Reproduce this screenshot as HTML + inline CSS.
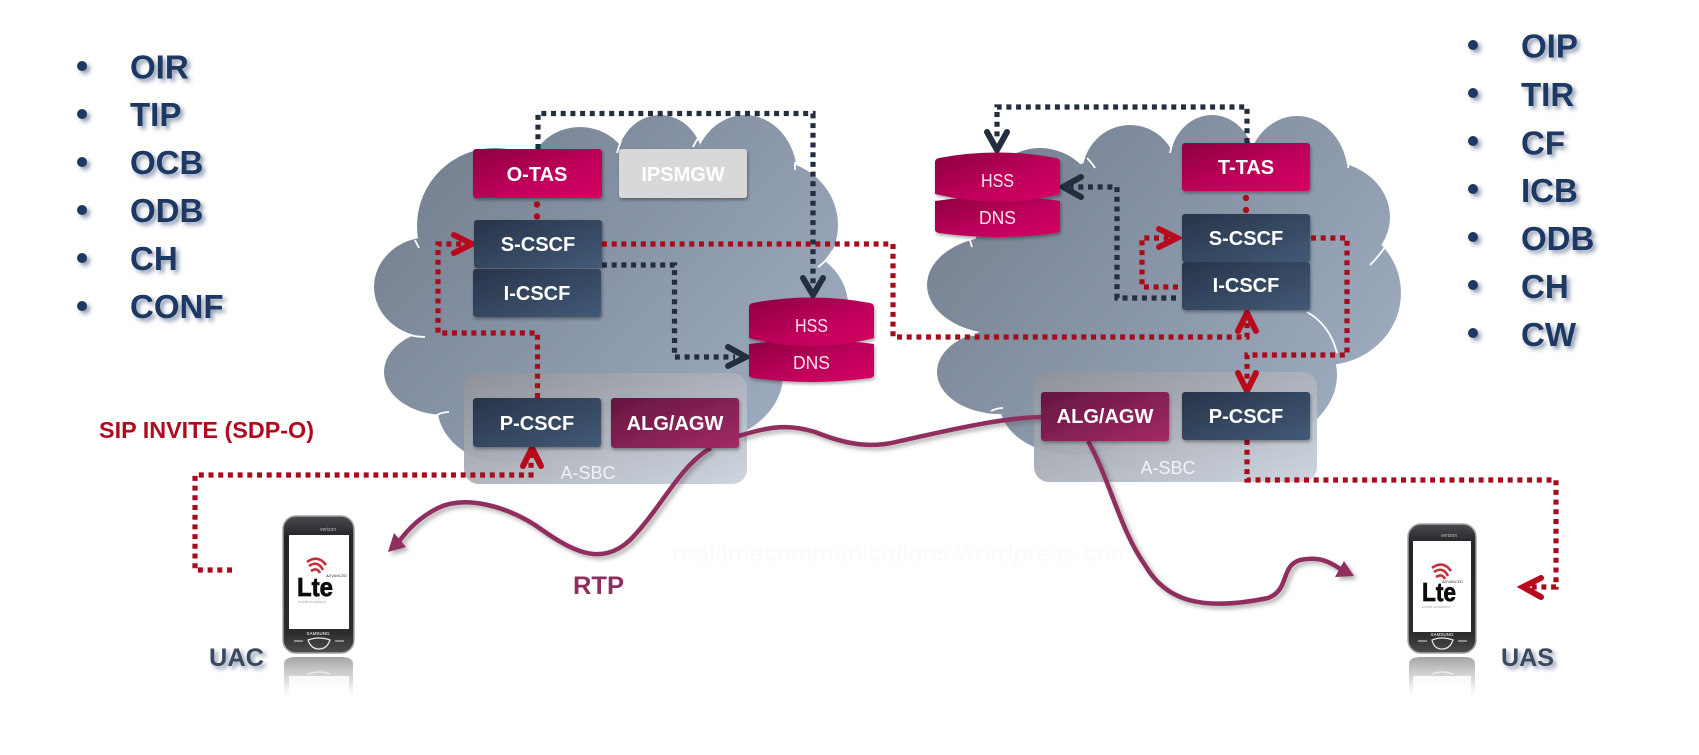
<!DOCTYPE html>
<html><head><meta charset="utf-8"><style>
html,body{margin:0;padding:0;background:#fff;width:1699px;height:755px;overflow:hidden}
svg{display:block}
text{font-family:"Liberation Sans",sans-serif}
.bx text,.t{font-weight:bold;fill:#fff;font-size:20px;text-anchor:middle}
.ls text{font-weight:bold;font-size:33px;fill:#1f3864}
.r{fill:none;stroke:#a80c1c;stroke-width:5.2;stroke-dasharray:5 4.7}
.d{fill:none;stroke:#232e3e;stroke-width:5.2;stroke-dasharray:5 4.7}
.ra{fill:none;stroke:#b80a1c;stroke-width:6;stroke-linecap:round;stroke-linejoin:miter}
.da{fill:none;stroke:#232e3e;stroke-width:6;stroke-linecap:round}
.p{fill:none;stroke:#8f2d5f;stroke-width:4.5}
.w{fill:none;stroke:#fff;stroke-width:1.8}
.cy{font-size:18px;fill:#fbe6f0}
.lg{font-size:26px;font-weight:bold;fill:#0c0c0c;stroke:#0c0c0c;stroke-width:.7}
</style></head><body>
<svg width="1699" height="755" viewBox="0 0 1699 755" xmlns="http://www.w3.org/2000/svg">
<defs>
<linearGradient id="c1" gradientUnits="userSpaceOnUse" x1="420" y1="130" x2="780" y2="470"><stop offset="0" stop-color="#737f8e"/><stop offset="1" stop-color="#a0aec2"/></linearGradient>
<linearGradient id="c2" gradientUnits="userSpaceOnUse" x1="960" y1="130" x2="1340" y2="470"><stop offset="0" stop-color="#737f8e"/><stop offset="1" stop-color="#a0aec2"/></linearGradient>
<linearGradient id="sbc" x1="0" y1="0" x2="1" y2="1"><stop offset="0" stop-color="#8e9197"/><stop offset="1" stop-color="#ccd3de"/></linearGradient>
<linearGradient id="dk" x1="0" y1="0" x2="1" y2="1"><stop offset="0" stop-color="#28344a"/><stop offset="1" stop-color="#425a76"/></linearGradient>
<linearGradient id="pk" x1="0" y1="0" x2="1" y2="1"><stop offset="0" stop-color="#8c0540"/><stop offset=".55" stop-color="#bd005a"/><stop offset="1" stop-color="#d60062"/></linearGradient>
<linearGradient id="al" x1="0" y1="0" x2="1" y2="1"><stop offset="0" stop-color="#641640"/><stop offset="1" stop-color="#a32a66"/></linearGradient>
<linearGradient id="ph" x1="0" y1="0" x2="0" y2="1"><stop offset="0" stop-color="#4a4b4f"/><stop offset=".15" stop-color="#242528"/><stop offset=".85" stop-color="#2b2c2e"/><stop offset="1" stop-color="#4b4c4e"/></linearGradient>
<linearGradient id="rf" x1="0" y1="0" x2="0" y2="1"><stop offset="0" stop-color="#8c8d8f" stop-opacity=".8"/><stop offset=".55" stop-color="#c8c8c8" stop-opacity=".55"/><stop offset="1" stop-color="#fff" stop-opacity="0"/></linearGradient>
<linearGradient id="rs" x1="0" y1="0" x2="0" y2="1"><stop offset="0" stop-color="#fff" stop-opacity=".85"/><stop offset="1" stop-color="#fff"/></linearGradient>
<filter id="s" x="-20%" y="-20%" width="140%" height="150%"><feDropShadow dx="1" dy="2" stdDeviation="1.5" flood-color="#000" flood-opacity=".35"/></filter>
<filter id="ts" x="-20%" y="-20%" width="150%" height="160%"><feDropShadow dx="3" dy="3" stdDeviation="2" flood-color="#1f3864" flood-opacity=".5"/></filter>
<filter id="ps" x="-10%" y="-10%" width="120%" height="130%"><feDropShadow dx="3" dy="3" stdDeviation="2" flood-color="#555" flood-opacity=".45"/></filter>
</defs>

<!-- left cloud -->
<g fill="url(#c1)">
<ellipse cx="495" cy="226" rx="78" ry="78"/>
<ellipse cx="580" cy="177" rx="52" ry="50"/>
<ellipse cx="660" cy="165" rx="44" ry="50"/>
<ellipse cx="745" cy="175" rx="52" ry="60"/>
<ellipse cx="770" cy="225" rx="68" ry="65"/>
<ellipse cx="770" cy="305" rx="78" ry="62"/>
<ellipse cx="690" cy="375" rx="93" ry="70"/>
<ellipse cx="430" cy="287" rx="56" ry="50"/>
<ellipse cx="445" cy="372" rx="61" ry="43"/>
<ellipse cx="505" cy="405" rx="68" ry="58"/>
<ellipse cx="600" cy="290" rx="180" ry="125"/>
<rect x="470" y="380" width="260" height="70"/>
</g>
<path class="w" d="M415 240Q417 244 419 248M395 330Q410 337 425 337M437 415Q443 412 449 412M617 153Q619 146 621 141M693 147Q697 139 702 133M795 162V170M833 250Q826 262 818 267"/>

<!-- right cloud -->
<g fill="url(#c2)">
<ellipse cx="1040" cy="210" rx="60" ry="62"/>
<ellipse cx="1130" cy="175" rx="48" ry="50"/>
<ellipse cx="1212" cy="165" rx="43" ry="50"/>
<ellipse cx="1297" cy="176" rx="51" ry="60"/>
<ellipse cx="1325" cy="217" rx="65" ry="56"/>
<ellipse cx="1325" cy="293" rx="76" ry="72"/>
<ellipse cx="1240" cy="375" rx="97" ry="72"/>
<ellipse cx="1000" cy="285" rx="73" ry="49"/>
<ellipse cx="1000" cy="372" rx="63" ry="42"/>
<ellipse cx="1075" cy="405" rx="75" ry="50"/>
<ellipse cx="1150" cy="280" rx="185" ry="125"/>
<rect x="1040" y="380" width="270" height="60"/>
</g>
<path class="w" d="M969 237L972 247M950 329Q964 336 978 335M991 411Q997 408 1003 408M1087 158Q1092 163 1095 168M1170 153Q1171 147 1173 142M1348 168L1349 162M1370 265Q1379 256 1385 247M1307 312Q1330 325 1337 353"/>

<!-- A-SBC -->
<rect x="464" y="373" width="283" height="111" rx="15" fill="url(#sbc)" opacity=".95"/>
<rect x="1034" y="372" width="283" height="110" rx="15" fill="url(#sbc)" opacity=".95"/>
<text x="588" y="479" font-size="18" fill="#f0f2f6" text-anchor="middle">A-SBC</text>
<text x="1168" y="474" font-size="18" fill="#f0f2f6" text-anchor="middle">A-SBC</text>

<!-- purple curves -->
<g filter="url(#ps)">
<path class="p" d="M739 436C770 426 790 424 815 432C845 444 870 449 900 441C950 430 1000 418 1041 417"/>
<path class="p" d="M711 448C680 465 660 510 630 540C600 568 570 550 535 525C505 506 465 495 438 508C420 517 407 530 398 543"/>
<path fill="#8f2d5f" d="M388 552L394 533L406 547Z"/>
<path class="p" d="M1088 441C1110 480 1120 530 1145 565C1165 600 1200 612 1268 598C1290 590 1280 566 1300 560C1320 556 1330 562 1342 570"/>
<path fill="#8f2d5f" d="M1354 576L1344 561L1335 577Z"/>
</g>

<!-- dark connectors -->
<path class="d" d="M538 149V113.5H813V285"/>
<path class="da" d="M803 278L813 295L823 278"/>
<path class="d" d="M602 265H674.5V357H735"/>
<path class="da" d="M728 347L746 357L728 366"/>
<path class="d" d="M1247 143V107H997V140"/>
<path class="da" d="M987 132L997 150L1007 132"/>
<path class="d" d="M1176 298H1117V187H1070"/>
<path class="da" d="M1081 177L1063 187L1081 197"/>

<!-- red connectors -->
<path class="r" d="M602 244H893V337H1247V320"/>
<path class="ra" d="M1238 331L1247 313L1256 331"/>
<path class="r" d="M537.5 398V333H438V244H465"/>
<path class="ra" d="M454 235L472 244L454 253"/>
<path class="r" d="M232 570H195V475H531V455"/>
<path class="ra" d="M523 466L532 448L541 466"/>
<path class="r" d="M1178 287H1142V238H1170"/>
<path class="ra" d="M1159 229L1177 238L1159 247"/>
<path class="r" d="M1311 238H1347V355H1247V383"/>
<path class="ra" d="M1238 373L1247 391L1256 373"/>
<path class="r" d="M1247 440V480H1556V587H1530"/>
<path class="ra" d="M1541 578L1523 587L1541 597"/>
<g fill="#ad0a1e"><circle cx="537" cy="204.500" r="3.200"/><circle cx="537" cy="216.500" r="3.200"/><circle cx="1246" cy="198" r="3.200"/><circle cx="1246" cy="210" r="3.200"/></g>

<!-- boxes -->
<g class="bx">
<g filter="url(#s)">
<rect x="473" y="149" width="129" height="49" rx="3" fill="url(#pk)"/>
<rect x="619" y="149" width="128" height="49" rx="3" fill="#d8d8d8"/>
<rect x="474" y="220" width="128" height="48" rx="3" fill="url(#dk)"/>
<rect x="473" y="269" width="128" height="48" rx="3" fill="url(#dk)"/>
<rect x="473" y="398" width="128" height="49" rx="3" fill="url(#dk)"/>
<rect x="611" y="398" width="128" height="50" rx="3" fill="url(#al)"/>
<rect x="1182" y="143" width="128" height="48" rx="3" fill="url(#pk)"/>
<rect x="1182" y="214" width="128" height="48" rx="3" fill="url(#dk)"/>
<rect x="1182" y="262" width="128" height="48" rx="3" fill="url(#dk)"/>
<rect x="1041" y="392" width="128" height="49" rx="3" fill="url(#al)"/>
<rect x="1182" y="392" width="128" height="48" rx="3" fill="url(#dk)"/>
</g>
<text x="537" y="181">O-TAS</text>
<text x="683" y="181">IPSMGW</text>
<text x="538" y="251">S-CSCF</text>
<text x="537" y="300">I-CSCF</text>
<text x="537" y="430">P-CSCF</text>
<text x="675" y="430">ALG/AGW</text>
<text x="1246" y="174">T-TAS</text>
<text x="1246" y="245">S-CSCF</text>
<text x="1246" y="292">I-CSCF</text>
<text x="1105" y="423">ALG/AGW</text>
<text x="1246" y="423">P-CSCF</text>
</g>

<!-- cylinders -->
<g filter="url(#s)">
<path fill="url(#pk)" d="M749 344Q811 336 874 344V375Q874 377 870 378Q811 386 753 378Q749 377 749 375Z"/>
<path fill="url(#pk)" d="M749 307Q749 304 753 303Q811 292 870 303Q874 304 874 307V338Q811 354 749 338Z"/>
<path fill="url(#pk)" d="M935 201Q997 192 1060 201V230Q1060 232 1056 233Q997 241 939 233Q935 232 935 230Z"/>
<path fill="url(#pk)" d="M935 162Q935 159 939 158Q997 147 1056 158Q1060 159 1060 162V194Q997 209 935 194Z"/>
</g>
<text class="cy" x="795" y="332" textLength="33" lengthAdjust="spacingAndGlyphs">HSS</text>
<text class="cy" x="793" y="369" textLength="37" lengthAdjust="spacingAndGlyphs">DNS</text>
<text class="cy" x="981" y="187" textLength="33" lengthAdjust="spacingAndGlyphs">HSS</text>
<text class="cy" x="979" y="224" textLength="37" lengthAdjust="spacingAndGlyphs">DNS</text>

<!-- phone left -->
<rect x="283" y="516" width="71" height="137" rx="13" fill="url(#ph)" stroke="#a3a4a8" stroke-width="1.500"/>
<rect x="289" y="535" width="60" height="94" fill="#fff"/>
<text x="320" y="531" font-size="5" fill="#bbb">verizon</text>
<text x="318" y="635" font-size="4.500" font-weight="bold" fill="#ccc" text-anchor="middle">SAMSUNG</text>
<path d="M308 640Q319 636 330 640Q327 649 319 649Q311 649 308 640Z" fill="none" stroke="#e8e8e8" stroke-width="1.200"/>
<path d="M294 641h9M335 641h9" stroke="#ddd" stroke-width="1"/>
<path fill="none" stroke="#c4313d" stroke-width="2.600" d="M311 571Q317 567 320 573M309 566Q318 560 323 570M307 562Q318 554 326 565"/>
<text x="326" y="577" font-size="3.800" font-style="italic" fill="#333">ADVANCED</text>
<text class="lg" x="297" y="596" textLength="36" lengthAdjust="spacingAndGlyphs">Lte</text>
<text x="298" y="603" font-size="3.500" fill="#aaa">mobile broadband</text>
<path d="M284 664Q284 657 296 657H341Q353 657 353 664V703H284Z" fill="url(#rf)"/>
<rect x="289" y="676" width="60" height="28" fill="url(#rs)"/>
<path d="M308 674Q319 670 330 674" fill="none" stroke="#eee" stroke-width="1.200"/>

<!-- phone right -->
<rect x="1408" y="524" width="68" height="129" rx="13" fill="url(#ph)" stroke="#a3a4a8" stroke-width="1.500"/>
<rect x="1413" y="541" width="58" height="91" fill="#fff"/>
<text x="1441" y="537" font-size="5" fill="#bbb">verizon</text>
<text x="1442" y="636" font-size="4.500" font-weight="bold" fill="#ccc" text-anchor="middle">SAMSUNG</text>
<path d="M1432 640Q1442 636 1453 640Q1450 649 1442 649Q1434 649 1432 640Z" fill="none" stroke="#e8e8e8" stroke-width="1.200"/>
<path d="M1418 641h9M1458 641h9" stroke="#ddd" stroke-width="1"/>
<path fill="none" stroke="#c4313d" stroke-width="2.600" d="M1436 577Q1442 573 1445 579M1434 572Q1443 566 1448 576M1432 568Q1443 560 1451 571"/>
<text x="1442" y="583" font-size="3.800" font-style="italic" fill="#333">ADVANCED</text>
<text class="lg" x="1422" y="601" textLength="34" lengthAdjust="spacingAndGlyphs">Lte</text>
<text x="1422" y="608" font-size="3.500" fill="#aaa">mobile broadband</text>
<path d="M1409 664Q1409 657 1421 657H1464Q1475 657 1475 664V702H1409Z" fill="url(#rf)"/>
<rect x="1413" y="676" width="58" height="27" fill="url(#rs)"/>
<path d="M1432 674Q1442 670 1453 674" fill="none" stroke="#eee" stroke-width="1.200"/>

<!-- labels -->
<g class="ls" filter="url(#ts)">
<g fill="#1f3864"><circle cx="82" cy="66" r="5"/><circle cx="82" cy="114" r="5"/><circle cx="82" cy="162" r="5"/><circle cx="82" cy="210" r="5"/><circle cx="82" cy="258" r="5"/><circle cx="82" cy="306" r="5"/>
<circle cx="1473" cy="45" r="5"/><circle cx="1473" cy="93" r="5"/><circle cx="1473" cy="141" r="5"/><circle cx="1473" cy="189" r="5"/><circle cx="1473" cy="237" r="5"/><circle cx="1473" cy="285" r="5"/><circle cx="1473" cy="333" r="5"/></g>
<text x="130" y="78.500">OIR</text><text x="130" y="126">TIP</text><text x="130" y="174">OCB</text><text x="130" y="222">ODB</text><text x="130" y="270">CH</text><text x="130" y="318">CONF</text>
<text x="1521" y="57.500">OIP</text><text x="1521" y="106">TIR</text><text x="1521" y="154.500">CF</text><text x="1521" y="202">ICB</text><text x="1521" y="250">ODB</text><text x="1521" y="298">CH</text><text x="1521" y="346">CW</text>
</g>
<text x="99" y="438" font-size="23" font-weight="bold" fill="#b00a1e" textLength="215" lengthAdjust="spacingAndGlyphs">SIP INVITE (SDP-O)</text>
<text x="573" y="594" font-size="25" font-weight="bold" fill="#8f2d5f" textLength="51" lengthAdjust="spacingAndGlyphs">RTP</text>
<g filter="url(#ts)" font-size="25" font-weight="bold" fill="#3b4a60">
<text x="209" y="666" textLength="55" lengthAdjust="spacingAndGlyphs">UAC</text>
<text x="1501" y="666" textLength="53" lengthAdjust="spacingAndGlyphs">UAS</text>
</g>
<text x="672" y="561" font-size="23" fill="#fafafa" textLength="460" lengthAdjust="spacingAndGlyphs">realtimecommunications.wordpress.com</text>
</svg>
</body></html>
